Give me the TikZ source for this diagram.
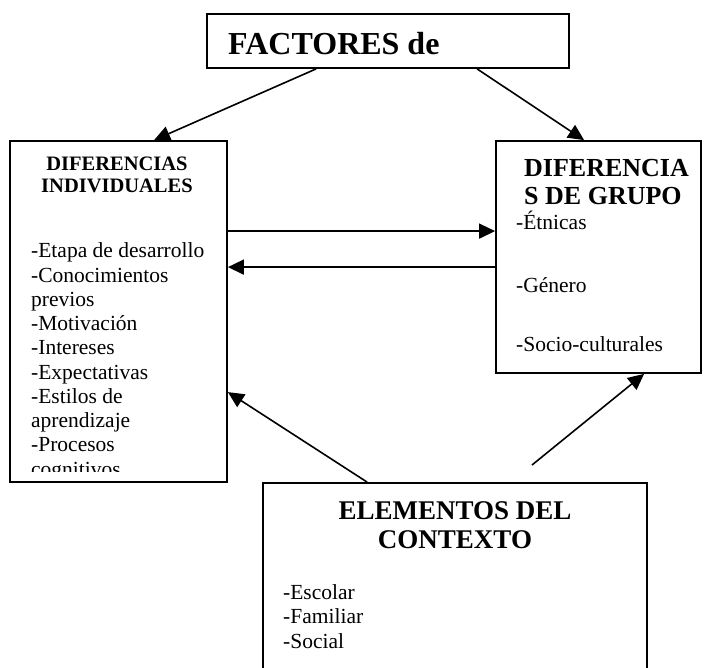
\documentclass[tikz,border=0pt]{standalone}
\usepackage{fontspec}
\setmainfont{Liberation Serif}
\usepackage{tikz}
\usetikzlibrary{arrows.meta, calc}
\definecolor{cInk}{HTML}{000000}
\tikzset{
  panel/.style={draw=cInk, line width=1.8pt, fill=white, inner sep=0pt},
  link/.style={-{Triangle[length=16pt, width=15pt]}, line width=1.6pt, draw=cInk},
  headTxt/.style={font=\bfseries\fontsize{#1}{#1}\selectfont, inner sep=0pt, text=cInk},
  bodyTxt/.style={font=\fontsize{21.5}{24}\selectfont, inner sep=0pt, anchor=base west, text=cInk},
}
\begin{document}
\begin{tikzpicture}[x=1pt, y=-1pt]
  \useasboundingbox (0, 0) rectangle (705, 668);
  % boxes
  \node[panel, minimum width=362pt, minimum height=54pt] (fact) at (388, 41) {};
  \node[panel, minimum width=217pt, minimum height=341pt] (ind) at (118.5, 311.5) {};
  \node[panel, minimum width=205pt, minimum height=232pt] (grp) at (598.5, 257) {};
  \node[panel, minimum width=384pt, minimum height=236pt] (ctx) at (455, 601) {};
  % titles
  \node[headTxt=32, anchor=base west] (factT) at (228, 55) {FACTORES de};
  \node[headTxt=20.5, anchor=base] (indT1) at (117, 171) {DIFERENCIAS};
  \node[headTxt=20.5, anchor=base] (indT2) at (117, 193) {INDIVIDUALES};
  \node[headTxt=26, anchor=base west] (grpT1) at (524, 177) {DIFERENCIA};
  \node[headTxt=26, anchor=base west] (grpT2) at (524, 205) {S DE GRUPO};
  \node[headTxt=27, anchor=base] (ctxT1) at (455, 519) {ELEMENTOS DEL};
  \node[headTxt=27, anchor=base] (ctxT2) at (455, 548) {CONTEXTO};
  % lists
  \foreach \txt [count=\i from 0] in {-Etapa de desarrollo, -Conocimientos, previos,
      -Motivación, -Intereses, -Expectativas, -Estilos de, aprendizaje, -Procesos}
    \node[bodyTxt] (indL\i) at (31, {258+\i*24.25}) {\txt};
  \begin{scope}
    \clip (10, 141) rectangle (227, 472);
    \node[bodyTxt] (indL9) at (31, 476.5) {cognitivos};
  \end{scope}
  \node[bodyTxt] (grpL1) at (516, 230) {-Étnicas};
  \node[bodyTxt] (grpL2) at (516, 293) {-Género};
  \node[bodyTxt] (grpL3) at (516, 352) {-Socio-culturales};
  \node[bodyTxt] (ctxL1) at (283, 599) {-Escolar};
  \node[bodyTxt] (ctxL2) at (283, 623) {-Familiar};
  \node[bodyTxt] (ctxL3) at (283, 648) {-Social};
  % arrows
  \coordinate (ctxTail) at (532, 465);
  \draw[link] ([xshift=110pt]fact.south west) -- ([xshift=145pt]ind.north west);
  \draw[link] ([xshift=271pt]fact.south west) -- ([xshift=89pt]grp.north west);
  \draw[link] ([yshift=-91pt]ind.north east) -- ([yshift=-91pt]grp.north west);
  \draw[link] ([yshift=-127pt]grp.north west) -- ([yshift=-127pt]ind.north east);
  \draw[link] ([xshift=105pt]ctx.north west) -- ([yshift=-252pt]ind.north east);
  \draw[link] (ctxTail) -- ([xshift=149pt]grp.south west);
\end{tikzpicture}
\end{document}
